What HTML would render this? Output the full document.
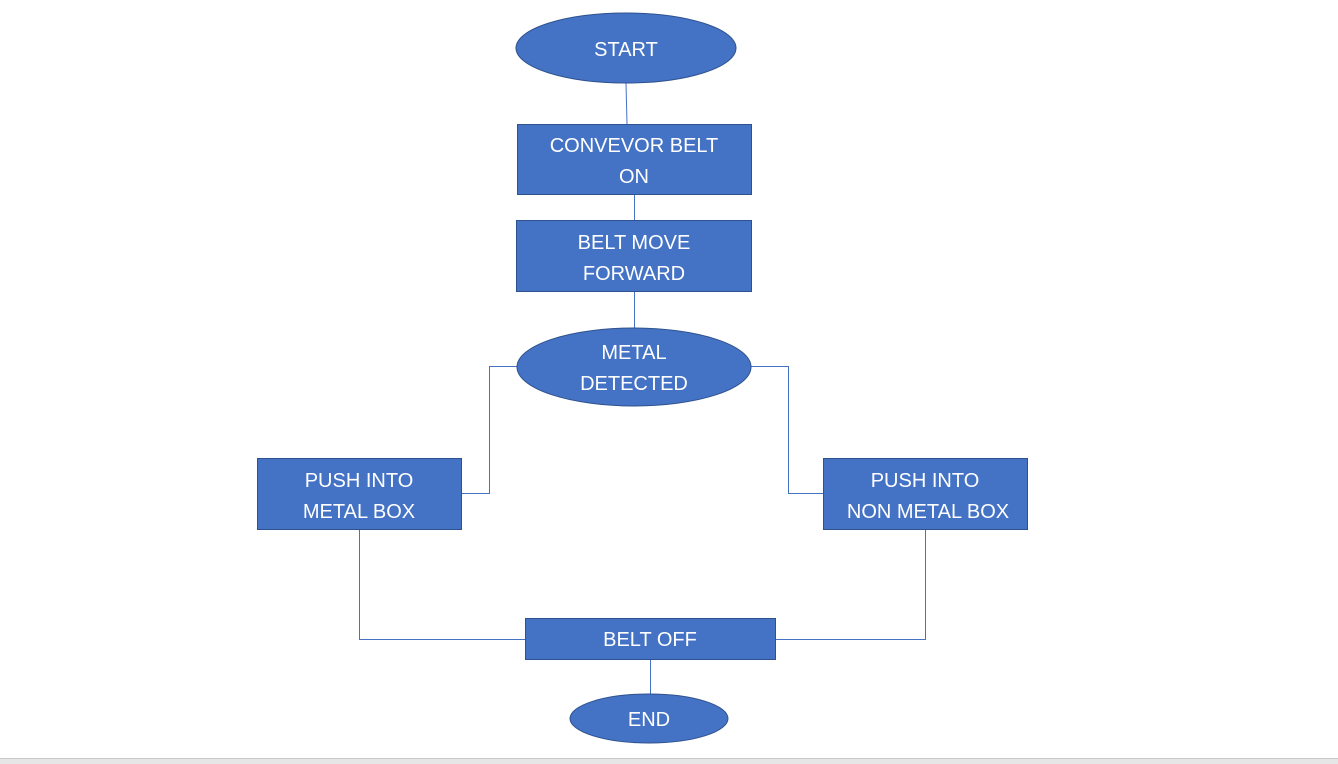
<!DOCTYPE html>
<html><head><meta charset="utf-8"><style>
html,body{margin:0;padding:0;background:#fff;width:1338px;height:764px;overflow:hidden}
svg{display:block}
text{font-family:"Liberation Sans",sans-serif;font-size:20px;fill:#fff;text-anchor:middle}
</style></head><body>
<svg width="1338" height="764" xmlns="http://www.w3.org/2000/svg">
<g stroke="#4472c4" stroke-width="1" fill="none">
<line x1="626" y1="83" x2="627" y2="124"/>
<line x1="634.5" y1="194" x2="634.5" y2="220"/>
<line x1="634.5" y1="291" x2="634.5" y2="328"/>
<polyline points="517,366.5 489.5,366.5 489.5,493.5 461,493.5"/>
<polyline points="751,366.5 788.5,366.5 788.5,493.5 823,493.5"/>
<polyline points="359.5,529 359.5,639.5 525,639.5"/>
<polyline points="925.5,529 925.5,639.5 775,639.5"/>
<line x1="650.5" y1="659" x2="650.5" y2="694"/>
</g>
<g fill="#4472c4" stroke="#2f528f" stroke-width="1">
<ellipse cx="626" cy="48" rx="110" ry="35"/>
<rect x="517.5" y="124.5" width="234" height="70"/>
<rect x="516.5" y="220.5" width="235" height="71"/>
<ellipse cx="634" cy="367" rx="117" ry="39"/>
<rect x="257.5" y="458.5" width="204" height="71"/>
<rect x="823.5" y="458.5" width="204" height="71"/>
<rect x="525.5" y="618.5" width="250" height="41"/>
<ellipse cx="649" cy="718.5" rx="79" ry="24.5"/>
</g>
<text x="626" y="56">START</text>
<text x="634" y="152">CONVEVOR BELT</text>
<text x="634" y="183">ON</text>
<text x="634" y="249">BELT MOVE</text>
<text x="634" y="280">FORWARD</text>
<text x="634" y="359">METAL</text>
<text x="634" y="390">DETECTED</text>
<text x="359" y="487">PUSH INTO</text>
<text x="359" y="518">METAL BOX</text>
<text x="925" y="487">PUSH INTO</text>
<text x="928" y="518">NON METAL BOX</text>
<text x="650" y="646">BELT OFF</text>
<text x="649" y="726">END</text>
<rect x="0" y="758" width="1338" height="6" fill="#e6e6e6"/>
<line x1="0" y1="758.5" x2="1338" y2="758.5" stroke="#c8c8c8"/>
</svg>
</body></html>
